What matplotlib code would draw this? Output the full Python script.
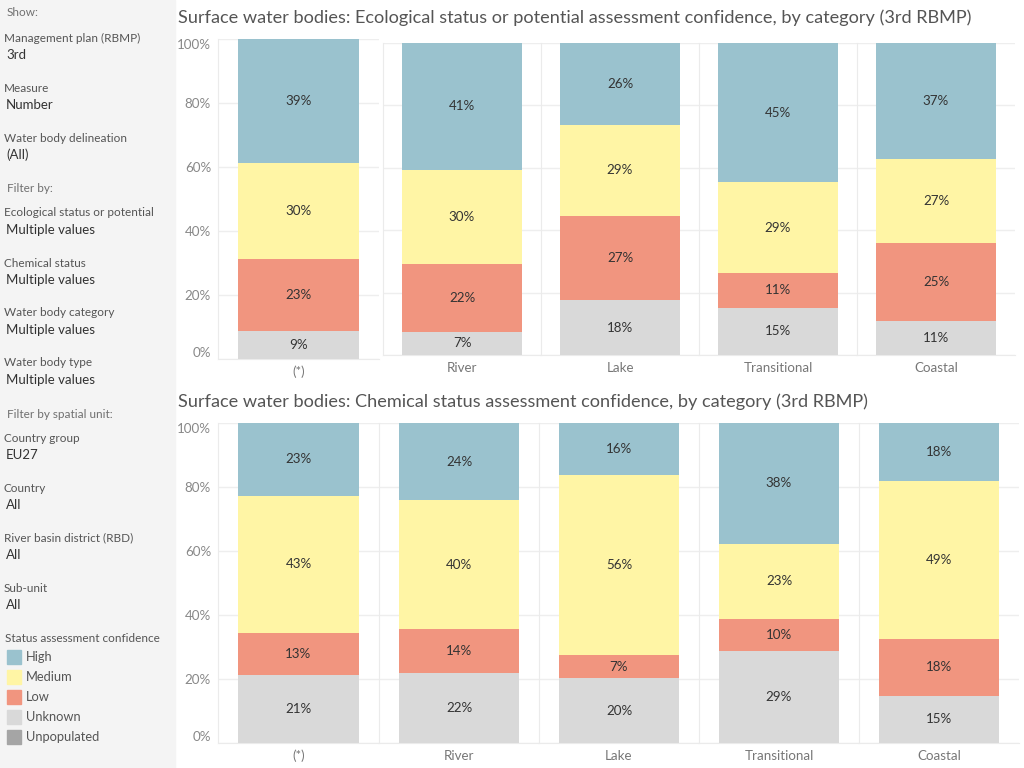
import matplotlib
matplotlib.use('Agg')
import matplotlib.pyplot as plt
from matplotlib.patches import Rectangle

plt.rcParams['font.family'] = ['Lato', 'DejaVu Sans']

# data (percent of water bodies)
categories = ['(*)', 'River', 'Lake', 'Transitional', 'Coastal']
levels = ['High', 'Medium', 'Low', 'Unknown', 'Unpopulated']
level_colors = ['#9AC2CE', '#FFF5A5', '#F1957F', '#D9D9D9', '#A5A5A5']

eco_unknown = [8.8, 7.4, 17.6, 15.1, 10.9]
eco_low = [22.6, 21.8, 27.0, 11.2, 25.0]
eco_medium = [30.0, 30.1, 29.1, 29.1, 26.9]
eco_high = [38.6, 40.7, 26.3, 44.6, 37.2]

chem_unknown = [21.4, 21.9, 20.2, 28.8, 14.7]
chem_low = [13.1, 13.7, 7.3, 10.0, 17.8]
chem_medium = [42.7, 40.3, 56.3, 23.4, 49.3]
chem_high = [22.8, 24.1, 16.2, 37.8, 18.2]

title_eco = 'Surface water bodies: Ecological status or potential assessment confidence, by category (3rd RBMP)'
title_chem = 'Surface water bodies: Chemical status assessment confidence, by category (3rd RBMP)'

# sidebar filters: (label, value)
show_items = [('Management plan (RBMP)', '3rd'), ('Measure', 'Number'),
              ('Water body delineation', '(All)')]
filter_items = [('Ecological status or potential', 'Multiple values'),
                ('Chemical status', 'Multiple values'),
                ('Water body category', 'Multiple values'),
                ('Water body type', 'Multiple values')]
spatial_items = [('Country group', 'EU27'), ('Country', 'All'),
                 ('River basin district (RBD)', 'All'), ('Sub-unit', 'All')]

W, H = 1024, 768
fig = plt.figure(figsize=(W / 100, H / 100), dpi=100)


def fx(px):
    return px / W


def fy(py):
    return 1 - py / H


# sidebar
fig.patches.append(Rectangle((0, 0), fx(175), 1, transform=fig.transFigure,
                             color='#F4F4F4', zorder=0))
lab_col = '#555555'
val_col = '#333333'
lab_fs = 8.5
val_fs = 9.5
fig.text(fx(7), fy(13), 'Show:', color='#707070', fontsize=lab_fs, va='center')
y = 38
for lab, val in show_items:
    fig.text(fx(4), fy(y), lab, color=lab_col, fontsize=lab_fs, va='center')
    fig.text(fx(6), fy(y + 17), val, color=val_col, fontsize=val_fs, va='center')
    y += 50
fig.text(fx(7), fy(188), 'Filter by:', color='#707070', fontsize=lab_fs, va='center')
y = 213
for lab, val in filter_items:
    fig.text(fx(4), fy(y), lab, color=lab_col, fontsize=lab_fs, va='center')
    fig.text(fx(6), fy(y + 17), val, color=val_col, fontsize=val_fs, va='center')
    y += 50
fig.text(fx(7), fy(414), 'Filter by spatial unit:', color='#707070', fontsize=lab_fs, va='center')
y = 438
for lab, val in spatial_items:
    fig.text(fx(4), fy(y), lab, color=lab_col, fontsize=lab_fs, va='center')
    fig.text(fx(6), fy(y + 17), val, color=val_col, fontsize=val_fs, va='center')
    y += 50
fig.text(fx(5), fy(639), 'Status assessment confidence', color=lab_col, fontsize=lab_fs, va='center')
for i, (lv, c) in enumerate(zip(levels, level_colors)):
    yc = 657 + 20 * i
    fig.patches.append(Rectangle((fx(7), fy(yc + 7)), fx(14), 14 / H,
                                 transform=fig.transFigure, color=c, zorder=1))
    fig.text(fx(26), fy(yc), lv, color=lab_col, fontsize=9.3, va='center')


def draw_chart(title, title_y, panels, unknown, low, medium, high, barw):
    fig.text(fx(178), fy(title_y), title, color='#555555', fontsize=13.1, va='center')
    for i, cat in enumerate(categories):
        x0, x1, y0, y1 = panels[i]
        ax = fig.add_axes([fx(x0), fy(y1), (x1 - x0) / W, (y1 - y0) / H])
        ax.set_xlim(-0.5, 0.5)
        ax.set_ylim(0, 100)
        bottom = 0
        segs = [unknown[i], low[i], medium[i], high[i]]
        cols = [level_colors[3], level_colors[2], level_colors[1], level_colors[0]]
        for v, c in zip(segs, cols):
            ax.bar(0, v, bottom=bottom, width=barw, color=c, zorder=2)
            ax.text(0, bottom + v / 2, f'{round(v)}%', ha='center', va='center',
                    fontsize=9.6, color='#333333', zorder=3)
            bottom += v
        ax.set_yticks(range(0, 101, 20))
        ax.grid(axis='y', color='#EEEEEE', lw=1, zorder=0)
        for s in ['top', 'right']:
            ax.spines[s].set_visible(False)
        ax.spines['left'].set_color('#EBEBEB')
        ax.spines['bottom'].set_color('#EBEBEB')
        ax.set_xticks([0])
        ax.set_xticklabels([cat])
        ax.tick_params(axis='x', length=0, pad=5, labelsize=9.6, labelcolor='#777777')
        ax.tick_params(axis='y', length=0, pad=5, labelsize=9.6, labelcolor='#888888')
        if i == 0:
            ax.set_yticklabels([f'{t}%' for t in range(0, 101, 20)])
            tl = ax.get_yticklabels()
            tl[0].set_va('bottom')
            tl[-1].set_va('top')
        else:
            ax.set_yticklabels([])


top_panels = [(218, 379, 39, 359), (383, 541, 43, 355), (541, 699, 43, 355),
              (699, 857, 43, 355), (857, 1015, 43, 355)]
bottom_panels = [(218, 379, 423, 743), (379, 539, 423, 743), (539, 699, 423, 743),
                 (699, 859, 423, 743), (859, 1019, 423, 743)]

draw_chart(title_eco, 18, top_panels, eco_unknown, eco_low, eco_medium, eco_high, 0.755)
draw_chart(title_chem, 402, bottom_panels, chem_unknown, chem_low, chem_medium, chem_high, 0.75)

fig.savefig('out.png', dpi=100)
